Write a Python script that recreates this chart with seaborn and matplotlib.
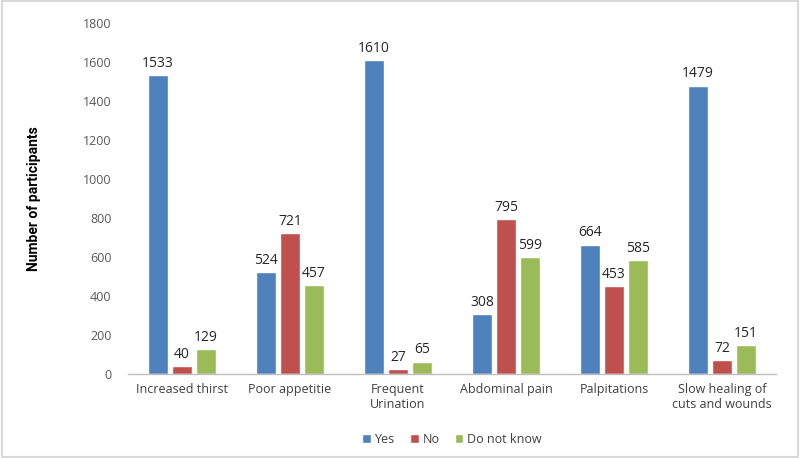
import matplotlib
matplotlib.use("Agg")
import matplotlib.pyplot as plt
import seaborn as sns
import pandas as pd
from matplotlib.patches import Rectangle

categories = ["Increased thirst", "Poor appetitie", "Frequent\nUrination",
              "Abdominal pain", "Palpitations", "Slow healing of\ncuts and wounds"]
yes_vals = [1533, 524, 1610, 308, 664, 1479]
no_vals = [40, 721, 27, 795, 453, 72]
dnk_vals = [129, 457, 65, 599, 585, 151]
series_names = ["Yes", "No", "Do not know"]
y_ticks = [0, 200, 400, 600, 800, 1000, 1200, 1400, 1600, 1800]

colors = ["#4F81BD", "#C0504D", "#9BBB59"]

rows = []
for s, vals in zip(series_names, [yes_vals, no_vals, dnk_vals]):
    for c, v in zip(categories, vals):
        rows.append({"Symptom": c, "Response": s, "Count": v})
df = pd.DataFrame(rows)

sns.set_theme(style="white")
plt.rcParams['font.family'] = ['Open Sans', 'DejaVu Sans']

fig = plt.figure(figsize=(8, 4.58), dpi=100)
ax = fig.add_axes([0.16, 0.183, 0.81, 0.767])

sns.barplot(data=df, x="Symptom", y="Count", hue="Response", order=categories,
            hue_order=series_names, palette=colors, width=0.667, gap=0.2,
            saturation=1, ax=ax, legend=True)

for cont in ax.containers:
    ax.bar_label(cont, labels=[f"{int(v)}" for v in cont.datavalues], padding=3,
                 fontsize=10, color="#262626")

ax.set_ylim(0, 1800)
ax.set_yticks(y_ticks)
ax.set_xlim(-0.5, len(categories) - 0.5)
ax.tick_params(axis="y", labelsize=9, colors="#595959", length=0, pad=12)
ax.tick_params(axis="x", labelsize=9, colors="#404040", length=0, pad=6)
for lab in ax.get_xticklabels():
    lab.set_color("#404040")
for lab in ax.get_yticklabels():
    lab.set_color("#595959")
ax.set_xlabel("")
ax.set_ylabel("Number of participants", fontsize=10, fontweight="bold",
              color="#000000", family=['Roboto', 'DejaVu Sans'],
              labelpad=30)
for side in ["top", "right", "left"]:
    ax.spines[side].set_visible(False)
ax.spines["bottom"].set_color("#BFBFBF")
ax.spines["bottom"].set_linewidth(1)

handles, labels = ax.get_legend_handles_labels()
ax.legend(handles, labels, loc="upper center", bbox_to_anchor=(0.5, -0.135),
          ncol=3, frameon=False, fontsize=9, handlelength=0.7, handleheight=0.7,
          handletextpad=0.3, columnspacing=1.2, labelcolor="#404040")

fig.patches.append(Rectangle((0.002, 0.003), 0.996, 0.994, transform=fig.transFigure,
                             fill=False, edgecolor="#D9D9D9", linewidth=1.5))

fig.savefig("out.png", dpi=100)
